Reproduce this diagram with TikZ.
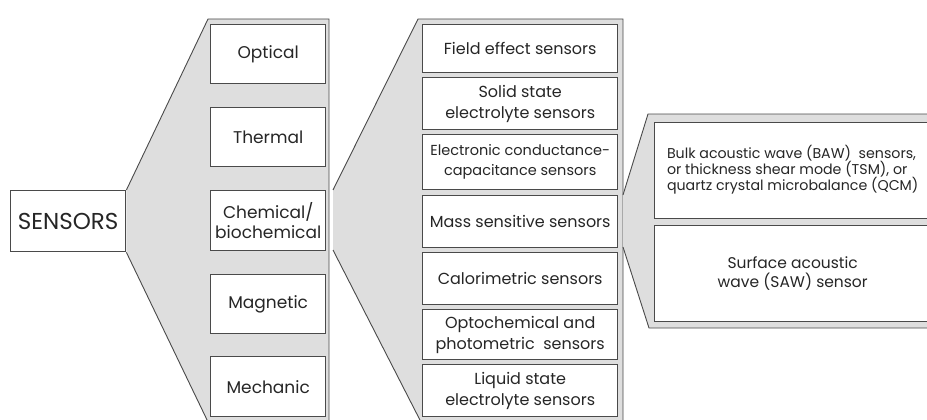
\documentclass[tikz,border=0pt]{standalone}
\usepackage{fontspec}
\setmainfont{Poppins}
\definecolor{trapfill}{HTML}{DEDEDE}
\definecolor{edge}{HTML}{4A4A4A}
\definecolor{ink}{HTML}{262626}
\begin{document}
\begin{tikzpicture}[x=1pt,y=-1pt,
  box/.style={draw=edge,line width=1.4pt,fill=white,text=ink,inner sep=0pt,align=center,anchor=north west},
  trap/.style={fill=trapfill,draw=edge,line width=0.9pt,line join=miter},
  catf/.style={font=\fontsize{17}{20}\selectfont},
  subf/.style={font=\fontsize{16}{21}\selectfont},
  leaff/.style={font=\fontsize{14.2}{18}\selectfont}]
\useasboundingbox (0,0) rectangle (927,420);
\clip (0,0) rectangle (927,420);
% root
\node[box,minimum width=115pt,minimum height=61pt,font=\fontsize{23}{26}\selectfont] (sensors) at (10,190) {SENSORS};
% first fan
\draw[trap] (sensors.north east) -- (208,19) -- (329,19) -- (329,424) -- (209,424) -- (sensors.south east);
\node[box,catf,minimum width=115pt,minimum height=59pt] (optical) at (210,24) {Optical};
\node[box,catf,minimum width=115pt,minimum height=59pt] (thermal) at (210,107) {Thermal};
\node[box,catf,minimum width=115pt,minimum height=60pt] (chem) at (210,190) {Chemical/\\biochemical};
\node[box,catf,minimum width=115pt,minimum height=59pt] (magnetic) at (210,274) {Magnetic};
\node[box,catf,minimum width=115pt,minimum height=60pt] (mechanic) at (210,356) {Mechanic};
% second fan
\coordinate (c2a) at (333,190);
\coordinate (c2b) at (333,250);
\draw[trap] (c2a) -- (418,19) -- (623,19) -- (623,424) -- (422,424) -- (c2b);
\node[box,subf,minimum width=195pt,minimum height=48pt] (field) at (422,24) {Field effect sensors};
\node[box,subf,minimum width=195pt,minimum height=52pt] (solid) at (422,77) {Solid state\\electrolyte sensors};
\node[box,minimum width=195pt,minimum height=55pt,font=\fontsize{14.5}{20}\selectfont] (elec) at (422,134) {Electronic conductance-\\capacitance sensors};
\node[box,subf,minimum width=195pt,minimum height=52pt] (mass) at (422,195) {Mass sensitive sensors};
\node[box,subf,minimum width=195pt,minimum height=52pt] (calor) at (422,252) {Calorimetric sensors};
\node[box,subf,minimum width=195pt,minimum height=50pt] (opto) at (422,309) {Optochemical and\\photometric\ \ sensors};
\node[box,subf,minimum width=195pt,minimum height=52pt] (liquid) at (422,364) {Liquid state\\electrolyte sensors};
% third fan
\coordinate (c3a) at (623,195);
\coordinate (c3b) at (623,247);
\draw[trap] (c3a) -- (648,114) -- (935,114) -- (935,328) -- (649,328) -- (c3b);
\node[box,leaff,minimum width=276pt,minimum height=96pt] (baw) at (654,122) {\begin{tabular}{@{}l@{}}Bulk acoustic wave (BAW)\ \ sensors,\\[-3pt]or thickness shear mode (TSM), or\\[-3pt]quartz crystal microbalance (QCM)\end{tabular}};
\node[box,minimum width=276pt,minimum height=96pt,font=\fontsize{15.5}{19}\selectfont] (saw) at (654,225) {Surface acoustic\\wave (SAW) sensor};
\end{tikzpicture}
\end{document}
